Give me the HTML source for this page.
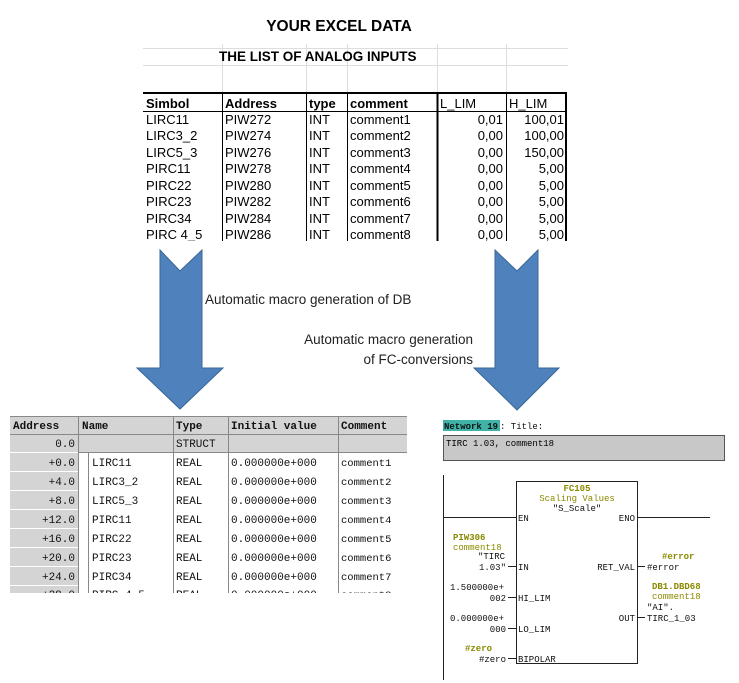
<!DOCTYPE html>
<html><head><meta charset="utf-8"><style>
body{margin:0;background:#fff;width:739px;height:683px;overflow:hidden}
svg{display:block}
.s{font-family:"Liberation Sans",sans-serif}
.m{font-family:"Liberation Mono",monospace}
</style></head><body>
<svg width="739" height="683" viewBox="0 0 739 683">
<!-- Title -->
<text x="339" y="31" text-anchor="middle" class="s" font-size="15.5" font-weight="bold">YOUR EXCEL DATA</text>
<!-- Excel sheet -->
<g stroke="#ddd" stroke-width="1">
<line x1="143" y1="48.5" x2="568" y2="48.5"/>
<line x1="143" y1="65.5" x2="568" y2="65.5"/>
<line x1="222.5" y1="44" x2="222.5" y2="92"/>
<line x1="306.5" y1="44" x2="306.5" y2="92"/>
<line x1="347.5" y1="44" x2="347.5" y2="92"/>
<line x1="437.5" y1="44" x2="437.5" y2="92"/>
<line x1="506.5" y1="44" x2="506.5" y2="92"/>
</g>
<text x="219" y="61" class="s" font-size="13.5" font-weight="bold">THE LIST OF ANALOG INPUTS</text>
<rect x="143" y="92" width="425" height="149" fill="#fff"/>
<line x1="143" y1="93" x2="567" y2="93" stroke="#000" stroke-width="2"/>
<g stroke="#000" stroke-width="1">
<line x1="222.5" y1="93" x2="222.5" y2="241"/>
<line x1="306.5" y1="93" x2="306.5" y2="241"/>
<line x1="347.5" y1="93" x2="347.5" y2="241"/>
<line x1="437.5" y1="93" x2="437.5" y2="241" stroke-width="2"/>
<line x1="506.5" y1="93" x2="506.5" y2="241"/>
<line x1="566" y1="93" x2="566" y2="241" stroke-width="2"/>
<line x1="143" y1="111.5" x2="566" y2="111.5"/>
</g>
<g class="s" font-size="13">
<g font-weight="bold"><text x="146" y="108">Simbol</text><text x="225" y="108">Address</text><text x="309" y="108">type</text><text x="350" y="108">comment</text></g>
<text x="440" y="108">L_LIM</text><text x="509" y="108">H_LIM</text>
<g>
<text x="146" y="124">LIRC11</text><text x="225" y="124">PIW272</text><text x="309" y="124">INT</text><text x="350" y="124">comment1</text><text x="503" y="124" text-anchor="end">0,01</text><text x="564" y="124" text-anchor="end">100,01</text>
<text x="146" y="140">LIRC3_2</text><text x="225" y="140">PIW274</text><text x="309" y="140">INT</text><text x="350" y="140">comment2</text><text x="503" y="140" text-anchor="end">0,00</text><text x="564" y="140" text-anchor="end">100,00</text>
<text x="146" y="157">LIRC5_3</text><text x="225" y="157">PIW276</text><text x="309" y="157">INT</text><text x="350" y="157">comment3</text><text x="503" y="157" text-anchor="end">0,00</text><text x="564" y="157" text-anchor="end">150,00</text>
<text x="146" y="173">PIRC11</text><text x="225" y="173">PIW278</text><text x="309" y="173">INT</text><text x="350" y="173">comment4</text><text x="503" y="173" text-anchor="end">0,00</text><text x="564" y="173" text-anchor="end">5,00</text>
<text x="146" y="190">PIRC22</text><text x="225" y="190">PIW280</text><text x="309" y="190">INT</text><text x="350" y="190">comment5</text><text x="503" y="190" text-anchor="end">0,00</text><text x="564" y="190" text-anchor="end">5,00</text>
<text x="146" y="206">PIRC23</text><text x="225" y="206">PIW282</text><text x="309" y="206">INT</text><text x="350" y="206">comment6</text><text x="503" y="206" text-anchor="end">0,00</text><text x="564" y="206" text-anchor="end">5,00</text>
<text x="146" y="223">PIRC34</text><text x="225" y="223">PIW284</text><text x="309" y="223">INT</text><text x="350" y="223">comment7</text><text x="503" y="223" text-anchor="end">0,00</text><text x="564" y="223" text-anchor="end">5,00</text>
<text x="146" y="239">PIRC 4_5</text><text x="225" y="239">PIW286</text><text x="309" y="239">INT</text><text x="350" y="239">comment8</text><text x="503" y="239" text-anchor="end">0,00</text><text x="564" y="239" text-anchor="end">5,00</text>
</g></g>
<rect x="140" y="241" width="440" height="10" fill="#fff"/>
<!-- Arrows -->
<polygon points="160,250 180,271 202,250 202,368 223,368 180,409 137,368 160,368" fill="#4f81bd" stroke="#3a6796" stroke-width="1"/>
<polygon points="495,250 517,271 538,250 538,368 559,368 517,410 474,368 495,368" fill="#4f81bd" stroke="#3a6796" stroke-width="1"/>
<g class="s" font-size="13.5" fill="#222">
<text x="205" y="304">Automatic macro generation of DB</text>
<text x="473" y="344" text-anchor="end">Automatic macro generation</text>
<text x="473" y="364" text-anchor="end">of FC-conversions</text>
</g>
<!-- DB table -->
<g>
<rect x="10" y="416" width="397" height="36" fill="#d4d4d4"/>
<rect x="10" y="452" width="68" height="141" fill="#d4d4d4"/>
<g stroke="#888" stroke-width="1">
<line x1="10" y1="434.5" x2="407" y2="434.5"/>
<line x1="10" y1="416.5" x2="407" y2="416.5"/>
<line x1="78.5" y1="416" x2="78.5" y2="593"/>
<line x1="88.5" y1="452" x2="88.5" y2="593"/>
<line x1="173.5" y1="416" x2="173.5" y2="593"/>
<line x1="228.5" y1="416" x2="228.5" y2="593"/>
<line x1="338.5" y1="416" x2="338.5" y2="593"/>
<line x1="78" y1="452.5" x2="407" y2="452.5"/>
<line x1="10" y1="452.5" x2="78" y2="452.5" stroke="#fff"/>
<line x1="10" y1="471.5" x2="78" y2="471.5" stroke="#fff"/>
<line x1="10" y1="490.5" x2="78" y2="490.5" stroke="#fff"/>
<line x1="10" y1="509.5" x2="78" y2="509.5" stroke="#fff"/>
<line x1="10" y1="528.5" x2="78" y2="528.5" stroke="#fff"/>
<line x1="10" y1="547.5" x2="78" y2="547.5" stroke="#fff"/>
<line x1="10" y1="566.5" x2="78" y2="566.5" stroke="#fff"/>
<line x1="10" y1="585.5" x2="78" y2="585.5" stroke="#fff"/>
</g>
<g class="m" font-size="11" fill="#111">
<g font-weight="bold"><text x="13" y="429">Address</text><text x="82" y="429">Name</text><text x="176" y="429">Type</text><text x="231" y="429">Initial value</text><text x="341" y="429">Comment</text></g>
<text x="75" y="447" text-anchor="end">0.0</text><text x="176" y="447">STRUCT</text>
<text x="75" y="466" text-anchor="end">+0.0</text><text x="92" y="466">LIRC11</text><text x="176" y="466">REAL</text><text x="231" y="466">0.000000e+000</text><text x="341" y="466" font-size="10.5">comment1</text>
<text x="75" y="485" text-anchor="end">+4.0</text><text x="92" y="485">LIRC3_2</text><text x="176" y="485">REAL</text><text x="231" y="485">0.000000e+000</text><text x="341" y="485" font-size="10.5">comment2</text>
<text x="75" y="504" text-anchor="end">+8.0</text><text x="92" y="504">LIRC5_3</text><text x="176" y="504">REAL</text><text x="231" y="504">0.000000e+000</text><text x="341" y="504" font-size="10.5">comment3</text>
<text x="75" y="523" text-anchor="end">+12.0</text><text x="92" y="523">PIRC11</text><text x="176" y="523">REAL</text><text x="231" y="523">0.000000e+000</text><text x="341" y="523" font-size="10.5">comment4</text>
<text x="75" y="542" text-anchor="end">+16.0</text><text x="92" y="542">PIRC22</text><text x="176" y="542">REAL</text><text x="231" y="542">0.000000e+000</text><text x="341" y="542" font-size="10.5">comment5</text>
<text x="75" y="561" text-anchor="end">+20.0</text><text x="92" y="561">PIRC23</text><text x="176" y="561">REAL</text><text x="231" y="561">0.000000e+000</text><text x="341" y="561" font-size="10.5">comment6</text>
<text x="75" y="580" text-anchor="end">+24.0</text><text x="92" y="580">PIRC34</text><text x="176" y="580">REAL</text><text x="231" y="580">0.000000e+000</text><text x="341" y="580" font-size="10.5">comment7</text>
<text x="75" y="598" text-anchor="end">+28.0</text><text x="92" y="598">PIRC_4_5</text><text x="176" y="598">REAL</text><text x="231" y="598">0.000000e+000</text><text x="341" y="598" font-size="10.5">comment8</text>
</g>
<rect x="0" y="593" width="420" height="20" fill="#fff"/>
</g>
<!-- Network -->
<rect x="443" y="420" width="57" height="11" fill="#3fb3a8"/>
<g class="m" font-size="9" fill="#111">
<text x="444" y="429" font-weight="bold">Network 19</text>
<text x="500" y="429">: Title:</text>
</g>
<rect x="443.5" y="435.5" width="281" height="25" fill="#c8c8c8" stroke="#555"/>
<text x="446" y="446" class="m" font-size="9">TIRC 1.03, comment18</text>
<g stroke="#222" stroke-width="1">
<line x1="443.5" y1="475" x2="443.5" y2="680"/>
<rect x="516.5" y="481.5" width="121" height="182" fill="#fff"/>
<line x1="443" y1="517.5" x2="516" y2="517.5"/>
<line x1="638" y1="517.5" x2="710" y2="517.5"/>
<line x1="508" y1="566.5" x2="516" y2="566.5"/>
<line x1="508" y1="597.5" x2="516" y2="597.5"/>
<line x1="508" y1="628.5" x2="516" y2="628.5"/>
<line x1="508" y1="658.5" x2="516" y2="658.5"/>
<line x1="638" y1="566.5" x2="645" y2="566.5"/>
<line x1="638" y1="617.5" x2="645" y2="617.5"/>
</g>
<g class="m" font-size="9" fill="#111">
<text x="577" y="491" text-anchor="middle" fill="#8a8a00" font-weight="bold">FC105</text>
<text x="577" y="501" text-anchor="middle" fill="#8a8a00">Scaling Values</text>
<text x="577" y="511" text-anchor="middle">"S_Scale"</text>
<text x="518" y="521">EN</text><text x="635" y="521" text-anchor="end">ENO</text>
<text x="518" y="570">IN</text><text x="518" y="601">HI_LIM</text><text x="518" y="632">LO_LIM</text><text x="518" y="662">BIPOLAR</text>
<text x="635" y="570" text-anchor="end">RET_VAL</text><text x="635" y="621" text-anchor="end">OUT</text>
<text x="453" y="540" fill="#8a8a00" font-weight="bold">PIW306</text>
<text x="453" y="550" fill="#8a8a00">comment18</text>
<text x="478" y="559">"TIRC</text>
<text x="506" y="570" text-anchor="end">1.03"</text>
<text x="450" y="590">1.500000e+</text>
<text x="506" y="601" text-anchor="end">002</text>
<text x="450" y="621">0.000000e+</text>
<text x="506" y="632" text-anchor="end">000</text>
<text x="465" y="651" fill="#8a8a00" font-weight="bold">#zero</text>
<text x="506" y="662" text-anchor="end">#zero</text>
<text x="662" y="559" fill="#8a8a00" font-weight="bold">#error</text>
<text x="647" y="570">#error</text>
<text x="652" y="589" fill="#8a8a00" font-weight="bold">DB1.DBD68</text>
<text x="652" y="599" fill="#8a8a00">comment18</text>
<text x="647" y="610">"AI".</text>
<text x="647" y="621">TIRC_1_03</text>
</g>
</svg>
</body></html>
